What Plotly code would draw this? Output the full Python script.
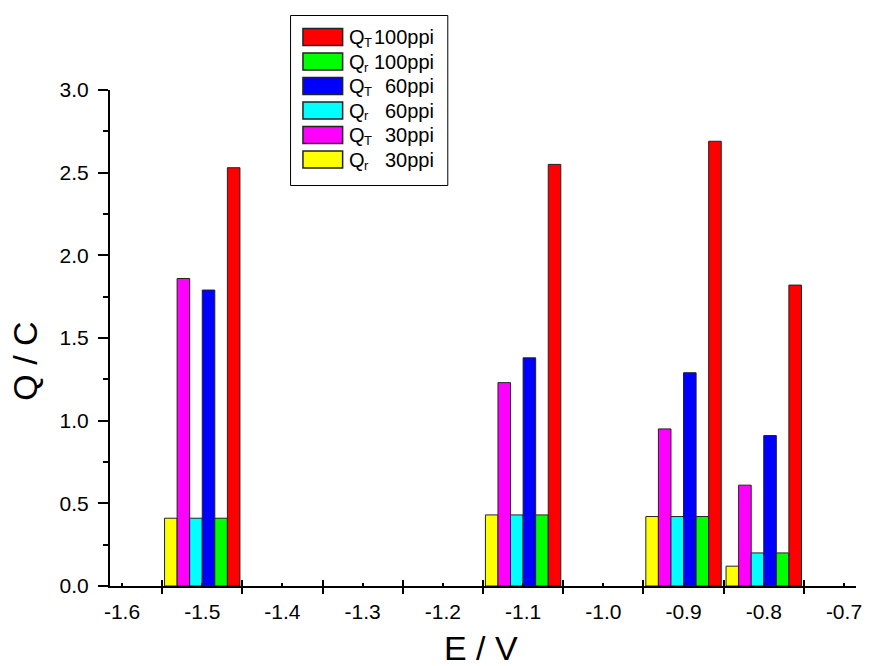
import plotly.graph_objects as go

# Potentials (V) at which the charges were measured
potentials = [-1.5, -1.1, -0.9, -0.8]

# Charge values (C) for each foam grade
qr_30 = [0.41, 0.43, 0.42, 0.12]
qt_30 = [1.86, 1.23, 0.95, 0.61]
qr_60 = [0.41, 0.43, 0.42, 0.20]
qt_60 = [1.79, 1.38, 1.29, 0.91]
qr_100 = [0.41, 0.43, 0.42, 0.20]
qt_100 = [2.53, 2.55, 2.69, 1.82]

# Axis ticks
x_label_ticks = [-1.6, -1.5, -1.4, -1.3, -1.2, -1.1, -1.0, -0.9, -0.8, -0.7]
x_label_text = ["-1.6", "-1.5", "-1.4", "-1.3", "-1.2", "-1.1", "-1.0", "-0.9", "-0.8", "-0.7"]
x_major_ticks = [-1.55, -1.45, -1.35, -1.25, -1.15, -1.05, -0.95, -0.85, -0.75]
y_ticks = [0.0, 0.5, 1.0, 1.5, 2.0, 2.5, 3.0]
y_tick_text = ["0.0", "0.5", "1.0", "1.5", "2.0", "2.5", "3.0"]

# Series in drawing order (left to right within each group):
# (quantity subscript, foam grade, values, colour)
series = [
    ("r", "30ppi", qr_30, "#FFFF00"),
    ("T", "30ppi", qt_30, "#FF00FF"),
    ("r", "60ppi", qr_60, "#00FFFF"),
    ("T", "60ppi", qt_60, "#0000FF"),
    ("r", "100ppi", qr_100, "#00FF00"),
    ("T", "100ppi", qt_100, "#FF0000"),
]

FONT = "Liberation Sans, Arial, sans-serif"
W, H = 870, 666
ML, MR, MT, MB = 110, 8, 90, 80
PW, PH = W - ML - MR, H - MT - MB


def px_x(px):
    return (px - ML) / PW


def px_y(py):
    return (H - MB - py) / PH


fig = go.Figure()
for sub, grade, vals, color in series:
    fig.add_trace(go.Bar(
        x=potentials, y=vals, name="Q" + sub + " " + grade,
        marker=dict(color=color, line=dict(color="#222222", width=1)),
        showlegend=False,
    ))

# helper trace so the overlay axis (crossing ticks) is drawn
fig.add_trace(go.Scatter(x=[], y=[], xaxis="x2", showlegend=False, hoverinfo="skip"))

fig.update_layout(
    width=W, height=H,
    margin=dict(l=ML, r=MR, t=MT, b=MB),
    paper_bgcolor="white", plot_bgcolor="white",
    barmode="group", bargap=0.06, bargroupgap=0.0,
    font=dict(family=FONT, size=20, color="black"),
    xaxis=dict(
        range=[-1.615, -0.685],
        tickmode="array", tickvals=x_label_ticks, ticktext=x_label_text,
        ticks="inside", ticklen=3, tickwidth=1.5, tickcolor="black",
        ticklabelstandoff=6,
        minor=dict(tickmode="array", tickvals=x_major_ticks, ticks="outside",
                   ticklen=6, tickwidth=2, tickcolor="black"),
        showline=True, linecolor="black", linewidth=2,
        showgrid=False, zeroline=False,
        tickfont=dict(size=21, family=FONT, color="black"),
    ),
    xaxis2=dict(
        overlaying="x", anchor="y", side="bottom",
        range=[-1.615, -0.685],
        tickmode="array", tickvals=x_major_ticks,
        ticks="inside", ticklen=6, tickwidth=2, tickcolor="black",
        showticklabels=False, showline=False, showgrid=False, zeroline=False,
    ),
    yaxis=dict(
        range=[0, 3.0],
        tickmode="array", tickvals=y_ticks, ticktext=y_tick_text,
        ticks="outside", ticklen=10, tickwidth=2, tickcolor="black",
        ticklabelstandoff=5,
        minor=dict(dtick=0.25, tick0=0, ticks="outside", ticklen=5,
                   tickwidth=2, tickcolor="black"),
        showline=True, linecolor="black", linewidth=2,
        showgrid=False, zeroline=False,
        tickfont=dict(size=21, family=FONT, color="black"),
    ),
)

# Axis titles
fig.add_annotation(text="Q / C", xref="paper", yref="paper",
                   x=px_x(24), y=px_y(361), textangle=-90, showarrow=False,
                   font=dict(size=34, family=FONT, color="black"),
                   xanchor="center", yanchor="middle")
fig.add_annotation(text="E / V", xref="paper", yref="paper",
                   x=px_x(484), y=px_y(648), showarrow=False,
                   font=dict(size=34, family=FONT, color="black"),
                   xanchor="center", yanchor="middle")

# Legend box with swatches
fig.add_shape(type="rect", xref="paper", yref="paper",
              x0=px_x(292), x1=px_x(450.5), y0=px_y(15.5), y1=px_y(185.5),
              line=dict(color="black", width=1), fillcolor="white", layer="above")


def legend_text(text, x, y, size, anchor):
    fig.add_annotation(text=text, xref="paper", yref="paper",
                       x=px_x(x), y=px_y(y), xanchor=anchor, yanchor="middle",
                       showarrow=False, font=dict(size=size, family=FONT, color="black"))


for i, (sub, grade, vals, color) in enumerate(reversed(series)):
    cy = 37 + 24.5 * i
    fig.add_shape(type="rect", xref="paper", yref="paper",
                  x0=px_x(304.5), x1=px_x(344.5), y0=px_y(cy - 8.5), y1=px_y(cy + 8.5),
                  line=dict(color="#222222", width=1.5), fillcolor=color, layer="above")
    legend_text("Q", 349, cy + 0.5, 20, "left")
    legend_text(sub, 364.5, cy + 5.5, 13, "left")
    legend_text(grade, 439, cy + 0.5, 20, "right")

fig.write_html("out.html")
